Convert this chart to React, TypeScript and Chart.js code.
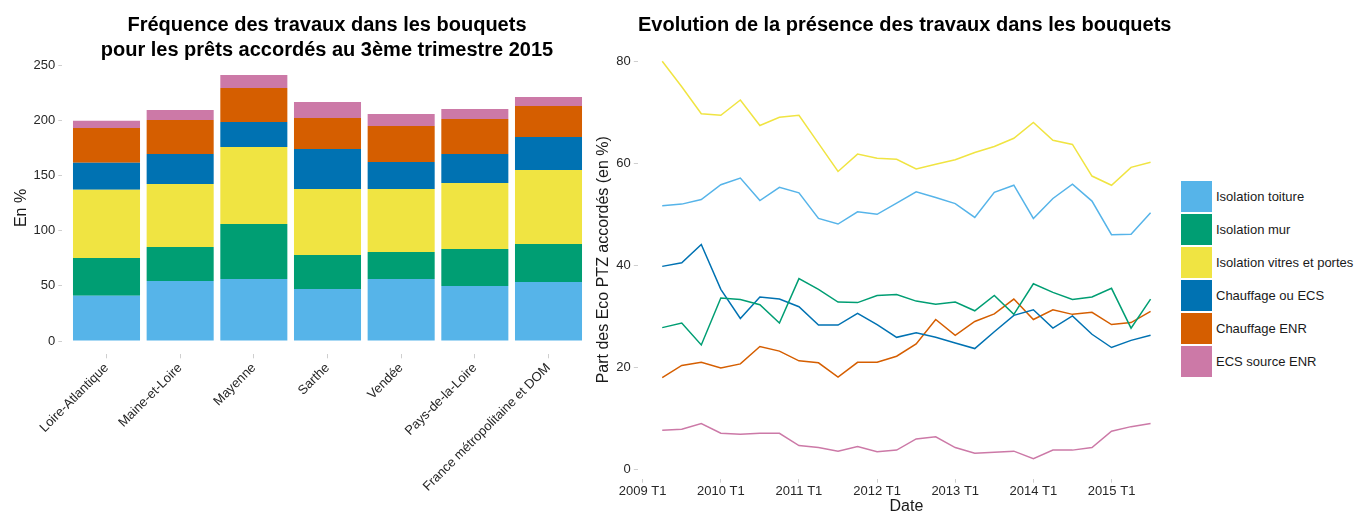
import React, { useEffect, useRef } from 'react';
import { Chart, registerables } from 'chart.js';

Chart.register(...registerables);

const FONT = '"Liberation Sans", Arial, Helvetica, sans-serif';
const TEXT = '#1a1a1a';
const TICK_TEXT = '#262626';
const TICK_MARK = '#cfcfcf';

// ---- Left chart: stacked bars ----
const regions = [
  'Loire-Atlantique',
  'Maine-et-Loire',
  'Mayenne',
  'Sarthe',
  'Vendée',
  'Pays-de-la-Loire',
  'France métropolitaine et DOM',
];

const seriesNames = [
  'Isolation toiture',
  'Isolation mur',
  'Isolation vitres et portes',
  'Chauffage ou ECS',
  'Chauffage ENR',
  'ECS source ENR',
];
const seriesColors = ['#56B4E9', '#009E73', '#F0E442', '#0072B2', '#D55E00', '#CC79A7'];

const barToiture = [41.0, 54.5, 56.3, 47.2, 56.3, 49.9, 53.6];
const barMur = [34.4, 30.8, 49.9, 30.9, 24.5, 33.6, 34.4];
const barVitres = [61.8, 57.2, 69.9, 59.9, 57.2, 59.9, 67.2];
const barChauffage = [24.5, 27.2, 22.7, 36.3, 24.5, 26.3, 30.0];
const barChauffageENR = [31.7, 30.9, 30.8, 28.1, 32.7, 31.8, 28.1];
const barECS = [6.4, 9.1, 11.8, 14.5, 10.8, 9.1, 8.2];
const barTicks = [0, 50, 100, 150, 200, 250];

// ---- Right chart: lines over quarters ----
const quarters = [
  '2009 T2', '2009 T3', '2009 T4',
  '2010 T1', '2010 T2', '2010 T3', '2010 T4',
  '2011 T1', '2011 T2', '2011 T3', '2011 T4',
  '2012 T1', '2012 T2', '2012 T3', '2012 T4',
  '2013 T1', '2013 T2', '2013 T3', '2013 T4',
  '2014 T1', '2014 T2', '2014 T3', '2014 T4',
  '2015 T1', '2015 T2', '2015 T3',
];
const dateTicks = ['2009 T1', '2010 T1', '2011 T1', '2012 T1', '2013 T1', '2014 T1', '2015 T1'];
const lineTicks = [0, 20, 40, 60, 80];

const lineToiture = [51.7, 52.0, 52.9, 55.8, 57.1, 52.7, 55.3, 54.2, 49.2, 48.1, 50.5, 50.0, 52.2, 54.4, 53.3, 52.1, 49.4, 54.3, 55.7, 49.2, 53.1, 55.9, 52.6, 46.0, 46.1, 50.3];
const lineMur = [27.8, 28.7, 24.4, 33.6, 33.3, 32.3, 28.7, 37.4, 35.3, 32.8, 32.7, 34.1, 34.3, 33.0, 32.4, 32.8, 31.1, 34.1, 30.4, 36.4, 34.7, 33.3, 33.8, 35.5, 27.7, 33.4];
const lineVitres = [80.0, 75.0, 69.7, 69.4, 72.4, 67.4, 69.0, 69.4, 63.9, 58.4, 61.8, 61.0, 60.8, 58.9, 59.8, 60.7, 62.1, 63.3, 64.9, 68.0, 64.5, 63.7, 57.5, 55.7, 59.2, 60.2];
const lineChauffage = [39.8, 40.5, 44.1, 35.3, 29.6, 33.8, 33.4, 31.9, 28.3, 28.3, 30.6, 28.4, 25.9, 26.8, 25.9, 24.8, 23.7, 27.0, 30.2, 31.3, 27.7, 30.1, 26.5, 23.9, 25.3, 26.3];
const lineChauffageENR = [18.0, 20.4, 21.0, 19.9, 20.7, 24.1, 23.2, 21.3, 20.9, 18.1, 21.0, 21.0, 22.2, 24.6, 29.4, 26.3, 29.0, 30.5, 33.4, 29.4, 31.3, 30.4, 30.8, 28.4, 28.8, 31.0];
const lineECS = [7.7, 7.9, 9.0, 7.1, 6.9, 7.1, 7.1, 4.7, 4.3, 3.6, 4.5, 3.5, 3.8, 6.0, 6.4, 4.3, 3.2, 3.4, 3.6, 2.1, 3.8, 3.8, 4.3, 7.5, 8.4, 9.0];

const quarterIndex = (q: string) => (parseInt(q.slice(0, 4), 10) - 2009) * 4 + parseInt(q.slice(6), 10) - 1;

const tickFont = { family: FONT, size: 13 };
const titleFont = { family: FONT, size: 16 };
const tickGrid = {
  display: true,
  drawOnChartArea: false,
  drawTicks: true,
  tickLength: 4,
  tickWidth: 1,
  color: TICK_MARK,
  offset: false,
};

export default function App() {
  const leftRef = useRef<HTMLCanvasElement>(null);
  const rightRef = useRef<HTMLCanvasElement>(null);

  useEffect(() => {
    const barSeries = [barToiture, barMur, barVitres, barChauffage, barChauffageENR, barECS];
    const lineSeries = [lineToiture, lineMur, lineVitres, lineChauffage, lineChauffageENR, lineECS];

    const left = new Chart(leftRef.current as HTMLCanvasElement, {
      type: 'bar',
      data: {
        datasets: barSeries.map((vals, k) => ({
          label: seriesNames[k],
          data: vals.map((v, i) => ({ x: i, y: v })),
          backgroundColor: seriesColors[k],
          borderWidth: 0,
          stack: 's',
          barPercentage: 0.91,
          categoryPercentage: 1,
        })),
      },
      options: {
        responsive: false,
        animation: false,
        layout: { padding: { left: 8, top: 61.7, right: 7.3, bottom: 0 } },
        plugins: { legend: { display: false }, tooltip: { enabled: false }, title: { display: false } },
        scales: {
          x: {
            type: 'linear',
            stacked: true,
            offset: false,
            min: -0.6,
            max: 6.6,
            afterBuildTicks: (s: any) => {
              s.ticks = regions.map((_, i) => ({ value: i }));
            },
            afterFit: (s: any) => {
              s.height = 513 - 354.3;
            },
            ticks: {
              autoSkip: false,
              minRotation: 45,
              maxRotation: 45,
              padding: 2,
              color: TICK_TEXT,
              font: tickFont,
              callback: (v: any) => regions[Math.round(Number(v))],
            },
            grid: tickGrid,
            border: { display: false },
          },
          y: {
            type: 'linear',
            stacked: true,
            min: -12.07,
            max: 253.5,
            afterBuildTicks: (s: any) => {
              s.ticks = barTicks.map((v) => ({ value: v }));
            },
            afterFit: (s: any) => {
              s.width = 54.3;
            },
            ticks: { padding: 3, color: TICK_TEXT, font: tickFont },
            grid: tickGrid,
            border: { display: false },
            title: { display: true, text: 'En %', color: TEXT, font: titleFont, padding: { top: 4, bottom: 4 } },
          },
        },
      } as any,
    });

    const right = new Chart(rightRef.current as HTMLCanvasElement, {
      type: 'line',
      data: {
        datasets: lineSeries.map((vals, k) => ({
          label: seriesNames[k],
          data: quarters.map((q, i) => ({ x: quarterIndex(q), y: vals[i] })),
          borderColor: seriesColors[k],
          backgroundColor: seriesColors[k],
          borderWidth: 1.5,
          pointRadius: 0,
          fill: false,
          tension: 0,
        })),
      },
      options: {
        responsive: false,
        animation: false,
        layout: { padding: { left: 10.4, top: 40.8, right: 5, bottom: 0 } },
        plugins: { legend: { display: false }, tooltip: { enabled: false }, title: { display: false } },
        scales: {
          x: {
            type: 'linear',
            min: -0.25,
            max: 27.25,
            afterBuildTicks: (s: any) => {
              s.ticks = dateTicks.map((d) => ({ value: quarterIndex(d) }));
            },
            afterFit: (s: any) => {
              s.height = 520 - 478.7;
            },
            ticks: {
              autoSkip: false,
              maxRotation: 0,
              minRotation: 0,
              padding: 1,
              color: TICK_TEXT,
              font: tickFont,
              callback: (v: any) => {
                const d = dateTicks.find((t) => quarterIndex(t) === Math.round(Number(v)));
                return d || '';
              },
            },
            grid: tickGrid,
            border: { display: false },
            title: { display: true, text: 'Date', color: TEXT, font: titleFont, padding: { top: 0, bottom: 4 } },
          },
          y: {
            type: 'linear',
            min: -1.8,
            max: 84.0,
            afterBuildTicks: (s: any) => {
              s.ticks = lineTicks.map((v) => ({ value: v }));
            },
            afterFit: (s: any) => {
              s.width = 47.4;
            },
            ticks: { padding: 3, color: TICK_TEXT, font: tickFont },
            grid: tickGrid,
            border: { display: false },
            title: {
              display: true,
              text: 'Part des Eco PTZ accordés (en %)',
              color: TEXT,
              font: titleFont,
              padding: { top: 4, bottom: 4 },
            },
          },
        },
      } as any,
    });

    return () => {
      left.destroy();
      right.destroy();
    };
  }, []);

  const titleStyle: React.CSSProperties = {
    position: 'absolute',
    fontFamily: FONT,
    fontWeight: 'bold',
    fontSize: 20,
    lineHeight: '25px',
    color: '#000',
    whiteSpace: 'nowrap',
  };

  return (
    <div
      style={{
        position: 'fixed',
        left: 0,
        top: 0,
        width: 1358,
        height: 513,
        overflow: 'hidden',
        background: '#fff',
        fontFamily: FONT,
      }}
    >
      <canvas
        ref={leftRef}
        width={600}
        height={513}
        style={{ position: 'absolute', left: 0, top: 0, width: 600, height: 513 }}
      />
      <canvas
        ref={rightRef}
        width={600}
        height={520}
        style={{ position: 'absolute', left: 580, top: 0, width: 600, height: 520 }}
      />
      <div style={{ ...titleStyle, left: 27, top: 12, width: 600, textAlign: 'center' }}>
        Fréquence des travaux dans les bouquets
        <br />
        pour les prêts accordés au 3ème trimestre 2015
      </div>
      <div style={{ ...titleStyle, left: 638, top: 12 }}>Evolution de la présence des travaux dans les bouquets</div>
      <div style={{ position: 'absolute', left: 1181, top: 181 }}>
        {seriesNames.map((name, i) => (
          <div key={name} style={{ position: 'relative', height: 33 }}>
            <div
              style={{
                position: 'absolute',
                left: 0,
                top: 0,
                width: 31,
                height: 31,
                background: seriesColors[i],
              }}
            />
            <div
              style={{
                position: 'absolute',
                left: 35,
                top: 0,
                height: 31,
                lineHeight: '31px',
                fontSize: 13,
                color: TEXT,
                whiteSpace: 'nowrap',
                fontFamily: FONT,
              }}
            >
              {name}
            </div>
          </div>
        ))}
      </div>
    </div>
  );
}
